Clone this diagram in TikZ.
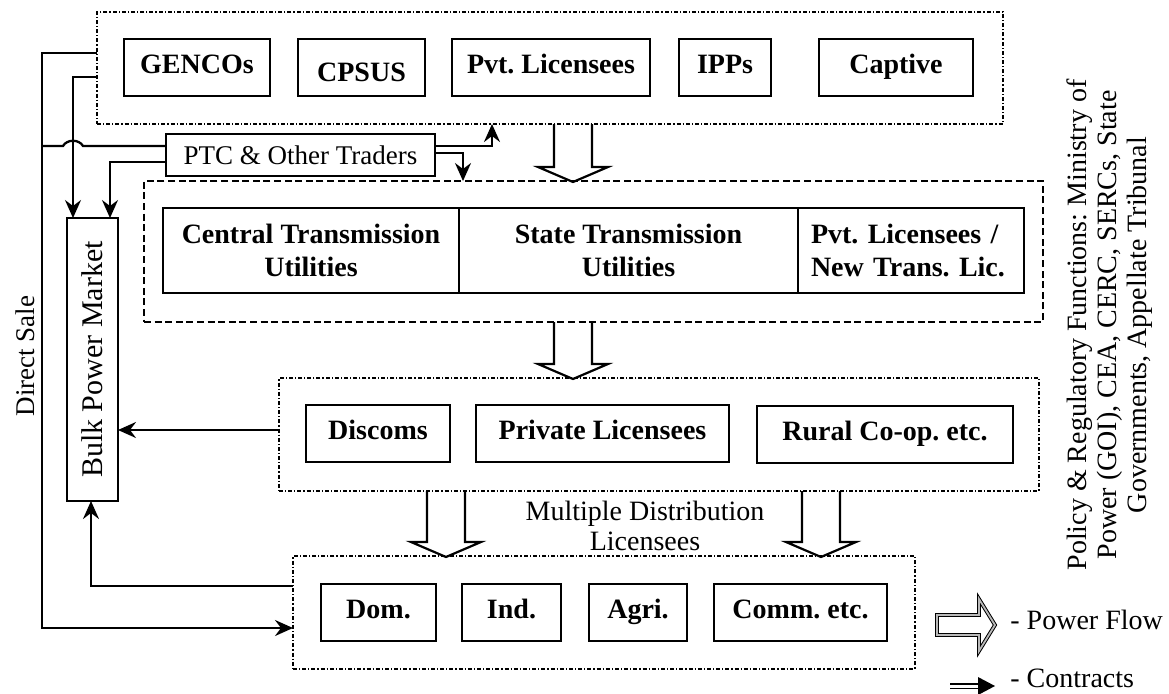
\documentclass[tikz,border=0pt]{standalone}
\usepackage{fontspec}
\setmainfont{Liberation Serif}
\usetikzlibrary{arrows.meta,calc}
\frenchspacing

% hollow power-flow arrow: x of axis, y of open top, y of tip
\newcommand\PowerFlowArrow[3]{%
  \draw[flow] (#1-19,#2) -- (#1-19,#3-15) -- (#1-35,#3-15) -- (#1,#3)
    -- (#1+35,#3-15) -- (#1+19,#3-15) -- (#1+19,#2);}

\begin{document}
\begin{tikzpicture}[x=0.5pt,y=-0.5pt,
  unit/.style={draw, line width=1.2pt, inner sep=0pt, outer sep=0pt,
    font=\bfseries\fontsize{14}{16.5}\selectfont,
    text height=9.3pt, text depth=3.5pt, minimum height=28.5pt},
  lowered/.style={text height=14.3pt, text depth=0pt},
  cell/.style={draw, line width=1.2pt, inner sep=0pt, outer sep=0pt,
    font=\bfseries\fontsize{14}{16.5}\selectfont, align=center,
    minimum height=42.5pt},
  grp/.style={draw, line width=0.9pt, inner sep=0pt, outer sep=0pt,
    dash pattern=on 2pt off 1pt on 0.6pt off 1pt},
  dgrp/.style={draw, line width=0.9pt, inner sep=0pt, outer sep=0pt,
    dash pattern=on 3.5pt off 1.8pt},
  wire/.style={line width=1.15pt},
  con/.style={wire, -{Stealth[length=9pt,width=8pt,inset=3pt]}},
  flow/.style={line width=1.1pt, line join=miter},
  lbl/.style={font=\fontsize{14}{15}\selectfont, inner sep=0pt}
]
\useasboundingbox (0,0) rectangle (1169,693);

% ---- groups ----
\node[grp,  minimum width=453pt,   minimum height=56pt]   (topgrp) at (550,68) {};
\node[dgrp, minimum width=449.5pt, minimum height=70.5pt] (tgrp)   at (593.5,251.5) {};
\node[grp,  minimum width=380pt,   minimum height=56.5pt] (midgrp) at (659,434.5) {};
\node[grp,  minimum width=311pt,   minimum height=56.5pt] (botgrp) at (604,612.5) {};

% ---- generation ----
\node[unit, minimum width=73pt]   (gencos)  at (197,67.5)   {GENCOs};
\node[unit, lowered, minimum width=63.5pt] (cpsus) at (361.5,67.5) {CPSUS};
\node[unit, minimum width=99pt]   (pvtlic)  at (551,67.5)   {Pvt. Licensees};
\node[unit, minimum width=46pt]   (ipps)    at (725,67.5)   {IPPs};
\node[unit, minimum width=77pt]   (captive) at (896,67.5)   {Captive};

% ---- traders ----
\node[draw, line width=1.2pt, inner sep=0pt, outer sep=0pt,
  minimum width=134.5pt, minimum height=21pt,
  font=\fontsize{13.5}{15}\selectfont] (ptc) at (300.5,155) {PTC \& Other Traders};

% ---- transmission ----
\node[cell, minimum width=148pt]   (ctu) at (311,250.5)   {Central Transmission\\Utilities};
\node[cell, minimum width=169.5pt] (stu) at (628.5,250.5) {State Transmission\\Utilities};
\node[cell, minimum width=113pt, text width=100pt, align=left, inner xsep=6.5pt]
  (ntl) at (911,250.5) {Pvt. Licensees /\\New Trans. Lic.};

% ---- distribution ----
\node[unit, minimum width=72pt]    (discoms) at (378,433.5)   {Discoms};
\node[unit, minimum width=126.5pt] (privlic) at (602.5,433.5) {Private Licensees};
\node[unit, minimum width=128pt]   (rural)   at (885,434.5)   {Rural Co-op. etc.};

% ---- consumers ----
\node[unit, minimum width=57.5pt] (dom)  at (378.5,612.5) {Dom.};
\node[unit, minimum width=49.5pt] (ind)  at (511.5,612.5) {Ind.};
\node[unit, minimum width=49pt]   (agri) at (638,612.5)   {Agri.};
\node[unit, minimum width=86.5pt] (comm) at (800.5,612.5) {Comm. etc.};

% ---- market ----
\node[draw, line width=1.2pt, inner sep=0pt, outer sep=0pt,
  minimum width=25.5pt, minimum height=141.5pt] (bulk) at (92.5,359.5)
  {\rotatebox{90}{\fontsize{15}{16}\selectfont Bulk Power Market}};

% ---- labels ----
\node[lbl, rotate=90, font=\fontsize{13.5}{15}\selectfont] (dsale) at (25,356) {Direct Sale};
\node[lbl, align=center] (mdl) at (645,526) {Multiple Distribution\\Licensees};
\node[lbl, rotate=90, align=center] (policy) at (1110,325)
  {Policy \& Regulatory Functions: Ministry of\\Power (GOI), CEA, CERC, SERCs, State\\Governments, Appellate Tribunal};

% ---- power flow ----
\PowerFlowArrow{573}{124}{182}
\PowerFlowArrow{573}{322}{379}
\PowerFlowArrow{446}{491}{557}
\PowerFlowArrow{821}{491}{557}

% ---- contracts ----
\coordinate (dsA) at (42,53);
\coordinate (dsB) at (42,628);
\draw[con] (topgrp.west |- dsA) -- (dsA) -- (dsB) -- (botgrp.west |- dsB);

\coordinate (c2) at (73,77);
\draw[con] (topgrp.west |- c2) -- (c2) -- (c2 |- bulk.north);

\coordinate (c3) at (42,146);
\coordinate (hopA) at (63,146);
\coordinate (hopB) at (83,146);
\draw[wire] (c3) -- (hopA) .. controls (67,139) and (79,139) .. (hopB) -- (c3 -| ptc.west);

\coordinate (c4) at (110,162);
\draw[con] (ptc.west |- c4) -- (c4) -- (c4 |- bulk.north);

\coordinate (c5) at (492,146);
\draw[con] (ptc.east |- c5) -- (c5) -- (c5 |- topgrp.south);

\coordinate (c6) at (463,153);
\draw[con] (ptc.east |- c6) -- (c6) -- (c6 |- tgrp.north);

\coordinate (c7) at (0,430);
\draw[con] (midgrp.west |- c7) -- (bulk.east |- c7);

\coordinate (c8) at (91,586);
\draw[con] (botgrp.west |- c8) -- (c8) -- (c8 |- bulk.south);

% ---- legend ----
\draw[line width=0.5pt, double=gray!55, double distance=0.9pt, line join=miter]
  (937,615) -- (979,615) -- (979,599) -- (995,625) -- (979,651) -- (979,635) -- (937,635) -- cycle;
\node[lbl, anchor=base west] (lgflow) at (1010,629) {- Power Flow};

\coordinate (lcA) at (950,686);
\coordinate (lcB) at (979,686);
\draw[line width=0.6pt, double distance=1.5pt] (lcA) -- (lcB);
\fill (978,677) -- (995,686) -- (978,695) -- cycle;
\node[lbl, anchor=base west] (lgcon) at (1010,687) {- Contracts};
\end{tikzpicture}
\end{document}
